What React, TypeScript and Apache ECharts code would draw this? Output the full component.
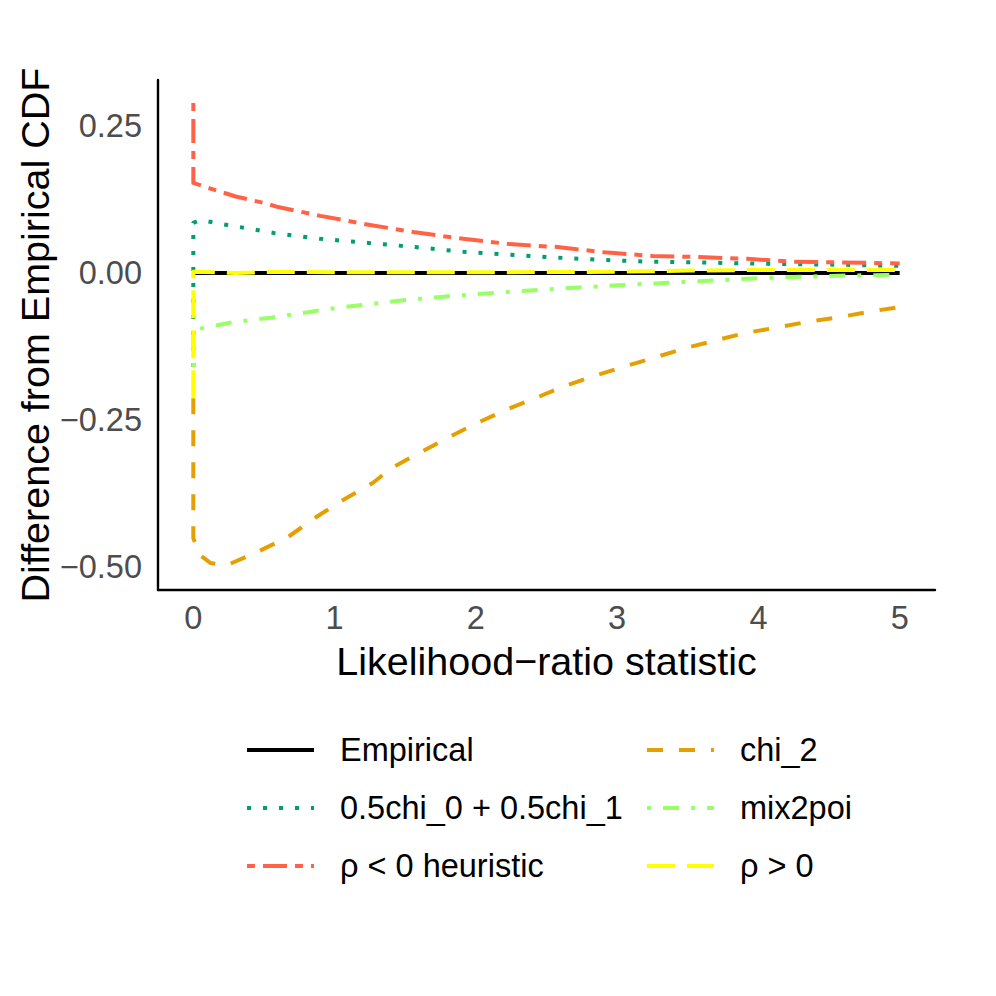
import React, { useEffect, useRef } from "react";
import * as echarts from "echarts";

// ---- data ----
const xTickValues = [0, 1, 2, 3, 4, 5];
const yTickValues = [-0.5, -0.25, 0, 0.25];

const empX = [0, 5];
const empY = [0, 0];

const chi01X = [0, 0, 0.05, 0.23, 0.57, 0.9, 1.24, 1.57, 1.91, 2.24, 2.58, 2.91, 3.25, 3.58, 3.92, 4.25, 4.58, 5];
const chi01Y = [-0.16, 0.085, 0.09, 0.082, 0.068, 0.058, 0.051, 0.044, 0.036, 0.031, 0.026, 0.022, 0.019, 0.018, 0.016, 0.015, 0.014, 0.012];

const heurX = [0, 0, 0.1, 0.3, 0.5, 0.6, 0.9, 1.24, 1.57, 1.91, 2.24, 2.58, 2.91, 3.25, 3.58, 3.92, 4.25, 4.58, 5];
const heurY = [0.289, 0.153, 0.145, 0.13, 0.119, 0.112, 0.097, 0.082, 0.069, 0.058, 0.049, 0.044, 0.035, 0.029, 0.027, 0.024, 0.019, 0.018, 0.016];

const chi2X = [0, 0, 0.05, 0.12, 0.235, 0.43, 0.67, 0.87, 1.04, 1.27, 1.4, 1.6, 1.81, 2.01, 2.21, 2.44, 2.61, 2.81, 3.04, 3.25, 3.48, 3.71, 3.91, 4.15, 4.35, 4.58, 4.78, 5];
const chi2Y = [-0.213, -0.451, -0.48, -0.493, -0.497, -0.477, -0.449, -0.415, -0.389, -0.357, -0.332, -0.306, -0.279, -0.255, -0.233, -0.211, -0.194, -0.177, -0.16, -0.145, -0.128, -0.114, -0.102, -0.092, -0.083, -0.075, -0.066, -0.058];

const mixX = [0, 0, 0.25, 0.55, 1.0, 1.5, 2.0, 2.5, 3.0, 3.5, 4.0, 4.5, 5];
const mixY = [-0.16, -0.097, -0.085, -0.076, -0.06, -0.046, -0.036, -0.028, -0.021, -0.015, -0.009, -0.005, -0.003];

const posX = [0, 0, 0.3, 0.6, 1, 2, 3, 3.5, 4, 5];
const posY = [-0.213, 0.002, 0, 0.002, 0.001, 0.001, 0.002, 0.004, 0.005, 0.005];

const seriesNames = ["Empirical", "0.5chi_0 + 0.5chi_1", "\u03c1 < 0 heuristic", "chi_2", "mix2poi", "\u03c1 > 0"];

const FONT = "'Liberation Sans', Arial, Helvetica, sans-serif";

const pts = (xs: number[], ys: number[]) => xs.map((x, i) => [x, ys[i]]);

const LW = 4;

function mkSeries(name: string, data: number[][], color: string, type: any) {
  return {
    name,
    type: "line",
    data,
    showSymbol: false,
    symbol: "none",
    color,
    itemStyle: { color },
    lineStyle: { color, width: LW, type, cap: "butt", join: "round" },
  };
}

const fmtY = (v: number) => (v < 0 ? "\u2212" : "") + Math.abs(v).toFixed(2);

const legendCommon = {
  orient: "vertical",
  padding: 0,
  itemWidth: 67,
  itemHeight: 20,
  itemGap: 22,
  itemStyle: { opacity: 0, borderWidth: 0 },
  lineStyle: { width: LW },
  textStyle: { fontFamily: FONT, fontSize: 32.5, color: "#000", lineHeight: 36, padding: [0, 0, 0, 21] },
  selectedMode: false,
};

const option: any = {
  animation: false,
  backgroundColor: "#ffffff",
  grid: { left: 158, right: 61, top: 80, bottom: 406, containLabel: false },
  xAxis: {
    type: "value",
    min: -0.25,
    max: 5.25,
    name: "Likelihood\u2212ratio statistic",
    nameLocation: "middle",
    nameGap: 51,
    nameMoveOverlap: false,
    nameTextStyle: { fontFamily: FONT, fontSize: 39.5, color: "#000" },
    axisLine: { show: true, onZero: false, lineStyle: { color: "#000", width: 2.4 } },
    axisTick: { show: false },
    splitLine: { show: false },
    axisLabel: {
      customValues: xTickValues,
      fontFamily: FONT,
      fontSize: 32.5,
      color: "#4D4D4D",
      margin: 11,
    },
  },
  yAxis: {
    type: "value",
    min: -0.539,
    max: 0.328,
    name: "Difference from Empirical CDF",
    nameLocation: "middle",
    nameGap: 103,
    nameMoveOverlap: false,
    nameTextStyle: { fontFamily: FONT, fontSize: 39.5, color: "#000" },
    axisLine: { show: true, onZero: false, lineStyle: { color: "#000", width: 2.4 } },
    axisTick: { show: false },
    splitLine: { show: false },
    axisLabel: {
      customValues: yTickValues,
      formatter: fmtY,
      fontFamily: FONT,
      fontSize: 32.5,
      color: "#4D4D4D",
      margin: 16,
    },
  },
  legend: [
    { ...legendCommon, left: 245, top: 732, data: seriesNames.slice(0, 3) },
    { ...legendCommon, left: 645, top: 732, data: seriesNames.slice(3, 6) },
  ],
  series: [
    mkSeries(seriesNames[0], pts(empX, empY), "#000000", "solid"),
    mkSeries(seriesNames[1], pts(chi01X, chi01Y), "#009E73", [4, 12]),
    mkSeries(seriesNames[2], pts(heurX, heurY), "#FF6347", [8, 8, 24, 8]),
    mkSeries(seriesNames[3], pts(chi2X, chi2Y), "#E69F00", [16, 16]),
    mkSeries(seriesNames[4], pts(mixX, mixY), "#99FF66", [4, 12, 16, 12]),
    mkSeries(seriesNames[5], pts(posX, posY), "#FFFF00", [28, 12]),
  ],
};

export default function App() {
  const ref = useRef<HTMLDivElement>(null);
  useEffect(() => {
    const chart = echarts.init(ref.current as HTMLDivElement, null, { renderer: "svg" });
    chart.setOption(option);
    return () => chart.dispose();
  }, []);
  return (
    <div
      ref={ref}
      style={{ position: "absolute", left: 0, top: 0, width: 996, height: 996, background: "#fff" }}
    />
  );
}
